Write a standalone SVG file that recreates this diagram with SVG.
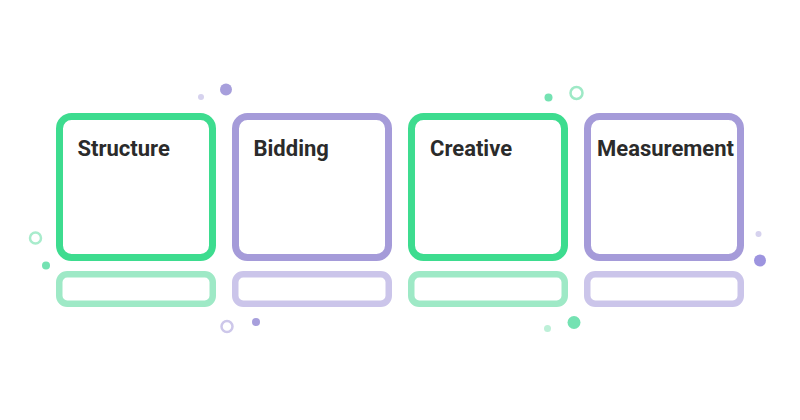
<svg xmlns="http://www.w3.org/2000/svg" width="800" height="420" viewBox="0 0 800 420">
<style>
.box{fill:#ffffff;stroke-width:7}
.bar{fill:#ffffff;stroke-width:6.5}
.g{stroke:#3ddc8f}
.p{stroke:#a59bd9}
.gl{stroke:#9ee9c6}
.pl{stroke:#cbc5ea}
.lbl{font-family:Roboto,"Liberation Sans",sans-serif;font-weight:700;font-size:22px;fill:#2b2b2b}
</style>
<rect width="800" height="420" fill="#ffffff"/>
<g id="decor">
<circle cx="226" cy="89.5" r="6" fill="#a79fdc"/>
<circle cx="201" cy="97" r="3" fill="#d6d2ee"/>
<circle cx="35.5" cy="238" r="5.5" fill="none" stroke="#a8eccc" stroke-width="2.5"/>
<circle cx="46" cy="265.5" r="4" fill="#74e2b2"/>
<circle cx="227" cy="326.5" r="5.5" fill="none" stroke="#cdc7ea" stroke-width="2.5"/>
<circle cx="256" cy="322" r="4" fill="#a79fdc"/>
<circle cx="548.5" cy="97.5" r="4" fill="#74e2b2"/>
<circle cx="576.5" cy="93" r="6" fill="none" stroke="#9ee9c6" stroke-width="2.5"/>
<circle cx="758.5" cy="234" r="3" fill="#d6d2ee"/>
<circle cx="760" cy="260.5" r="6" fill="#9d94df"/>
<circle cx="574" cy="322.5" r="6.5" fill="#74e2b2"/>
<circle cx="547.5" cy="328.5" r="3.5" fill="#bdf0d8"/>
</g>
<g id="connectors"></g>
<g id="node-structure">
<rect class="box g" x="59.5" y="116.5" width="153" height="141" rx="12"/>
<rect class="bar gl" x="59.25" y="274.25" width="153.5" height="29.5" rx="8"/>
<text class="lbl" x="77.5" y="156">Structure</text>
</g>
<g id="node-bidding">
<rect class="box p" x="235.5" y="116.5" width="153" height="141" rx="12"/>
<rect class="bar pl" x="235.25" y="274.25" width="153.5" height="29.5" rx="8"/>
<text class="lbl" x="253.5" y="156">Bidding</text>
</g>
<g id="node-creative">
<rect class="box g" x="411.5" y="116.5" width="153" height="141" rx="12"/>
<rect class="bar gl" x="411.25" y="274.25" width="153.5" height="29.5" rx="8"/>
<text class="lbl" x="430" y="156">Creative</text>
</g>
<g id="node-measurement">
<rect class="box p" x="587.5" y="116.5" width="153" height="141" rx="12"/>
<rect class="bar pl" x="587.25" y="274.25" width="153.5" height="29.5" rx="8"/>
<text class="lbl" x="597" y="156">Measurement</text>
</g>
</svg>
